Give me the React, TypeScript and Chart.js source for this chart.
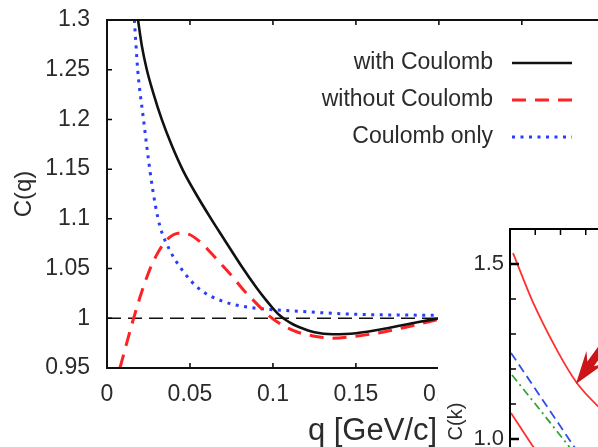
import { useEffect, useRef } from "react";
import { Chart, registerables } from "chart.js";
Chart.register(...registerables);

// ---------- main chart data ----------
const qWith = [0.0187, 0.021, 0.024, 0.028, 0.033, 0.039, 0.046, 0.054, 0.062, 0.07, 0.082, 0.09, 0.096, 0.1, 0.104, 0.108, 0.112, 0.116, 0.125, 0.136, 0.15, 0.169, 0.187, 0.2];
const cWith = [1.3, 1.274, 1.25, 1.226, 1.2, 1.174, 1.148, 1.124, 1.102, 1.081, 1.05, 1.031, 1.018, 1.01, 1.003, 0.998, 0.994, 0.991, 0.986, 0.984, 0.985, 0.99, 0.996, 1.0];

const qWithout = [0.0078, 0.0157, 0.021, 0.026, 0.03, 0.035, 0.04, 0.045, 0.05, 0.056, 0.062, 0.068, 0.075, 0.082, 0.09, 0.096, 0.102, 0.108, 0.115, 0.125, 0.136, 0.15, 0.166, 0.18, 0.2];
const cWithout = [0.95, 0.998, 1.027, 1.05, 1.064, 1.077, 1.084, 1.086, 1.084, 1.077, 1.067, 1.056, 1.043, 1.029, 1.015, 1.005, 0.997, 0.991, 0.986, 0.982, 0.98, 0.982, 0.986, 0.991, 0.999];

const qCoul = [0.0165, 0.0185, 0.022, 0.026, 0.029, 0.032, 0.038, 0.046, 0.056, 0.07, 0.086, 0.116, 0.15, 0.2];
const cCoul = [1.3, 1.25, 1.2, 1.147, 1.115, 1.092, 1.068, 1.047, 1.029, 1.017, 1.011, 1.007, 1.004, 1.003];

const qUnity = [0, 0.32];
const cUnity = [1, 1];

const seriesLabels = ["with Coulomb", "without Coulomb", "Coulomb only"];
const xTitle = "q [GeV/c]";
const yTitle = "C(q)";

// ---------- inset data ----------
const kUpper = [0.12, 0.87, 1.86, 2.65, 3.44, 4.3];
const cUpper = [1.531, 1.397, 1.254, 1.16, 1.097, 1.045];
const kLower = [0.04, 0.87, 1.4];
const cLower = [1.074, 0.983, 0.93];
const kBlue = [0.04, 1.3, 2.49, 3.0];
const cBlue = [1.246, 1.111, 0.983, 0.93];
const kGreen = [0.08, 1.19, 2.29, 2.8];
const cGreen = [1.183, 1.083, 0.983, 0.93];
const arrowTip = [2.61, 1.157];
const insetTitle = "C(k)";

const FONT = '"Liberation Sans", Arial, sans-serif';
const TEXT = "#2b2b2b";

const pts = (xs: number[], ys: number[]) => xs.map((x, i) => ({ x, y: ys[i] }));
const fmt = (v: number) => String(parseFloat(Number(v).toFixed(4)));

const mainFrame = {
  id: "mainFrame",
  afterDatasetsDraw(chart: any) {
    const { ctx, chartArea: a, scales } = chart;
    ctx.save();
    ctx.strokeStyle = "#000";
    ctx.lineWidth = 1.5;
    const tl = 5;
    scales.x.ticks.forEach((t: any) => {
      const px = scales.x.getPixelForValue(t.value);
      ctx.beginPath();
      ctx.moveTo(px, a.bottom); ctx.lineTo(px, a.bottom - tl);
      ctx.moveTo(px, a.top); ctx.lineTo(px, a.top + tl);
      ctx.stroke();
    });
    scales.y.ticks.forEach((t: any) => {
      const py = scales.y.getPixelForValue(t.value);
      ctx.beginPath();
      ctx.moveTo(a.left, py); ctx.lineTo(a.left + tl, py);
      ctx.moveTo(a.right, py); ctx.lineTo(a.right - tl, py);
      ctx.stroke();
    });
    ctx.lineWidth = 2;
    ctx.strokeStyle = "#111";
    ctx.strokeRect(a.left, a.top, a.right - a.left, a.bottom - a.top);
    ctx.restore();
  },
  afterDraw(chart: any) {
    const { ctx } = chart;
    const textRight = 493, lineStart = 512, lineEnd = 572;
    const rows = [63, 100, 137];
    chart.data.datasets.slice(0, 3).forEach((ds: any, i: number) => {
      ctx.save();
      ctx.font = `23px ${FONT}`;
      ctx.fillStyle = TEXT;
      ctx.textAlign = "right";
      ctx.textBaseline = "middle";
      ctx.fillText(ds.label, textRight, rows[i]);
      ctx.strokeStyle = ds.borderColor;
      ctx.lineWidth = ds.borderWidth;
      ctx.setLineDash(ds.borderDash || []);
      ctx.beginPath();
      ctx.moveTo(lineStart, rows[i]);
      ctx.lineTo(lineEnd, rows[i]);
      ctx.stroke();
      ctx.restore();
    });
  },
};

const insetFrame = {
  id: "insetFrame",
  afterDatasetsDraw(chart: any) {
    const { ctx, chartArea: a, scales } = chart;
    ctx.save();
    ctx.strokeStyle = "#000";
    scales.y.ticks.forEach((t: any) => {
      const py = scales.y.getPixelForValue(t.value);
      const major = Math.abs(t.value * 2 - Math.round(t.value * 2)) < 1e-6;
      ctx.lineWidth = major ? 2.5 : 1.5;
      ctx.beginPath();
      ctx.moveTo(a.left, py);
      ctx.lineTo(a.left + (major ? 9 : 6), py);
      ctx.stroke();
    });
    ctx.lineWidth = 1.5;
    scales.x.ticks.forEach((t: any) => {
      const px = scales.x.getPixelForValue(t.value);
      ctx.beginPath();
      ctx.moveTo(px, a.top);
      ctx.lineTo(px, a.top + 6);
      ctx.stroke();
    });
    ctx.lineWidth = 2;
    ctx.beginPath();
    ctx.moveTo(a.right + 50, a.top);
    ctx.lineTo(a.left, a.top);
    ctx.lineTo(a.left, a.bottom);
    ctx.stroke();

    // arrow annotation
    const tx = scales.x.getPixelForValue(arrowTip[0]);
    const ty = scales.y.getPixelForValue(arrowTip[1]);
    const ang = (-54 * Math.PI) / 180;
    const dx = Math.cos(ang), dy = Math.sin(ang);
    const nx = -dy, ny = dx;
    const p = (s: number, w: number) => [tx + dx * s + nx * w, ty + dy * s + ny * w];
    const poly = [p(0, 0), p(33, 11), p(25, 4), p(90, 4), p(90, -4), p(25, -4), p(33, -11)];
    ctx.fillStyle = "#cc1518";
    ctx.beginPath();
    poly.forEach(([x, y], i) => (i ? ctx.lineTo(x, y) : ctx.moveTo(x, y)));
    ctx.closePath();
    ctx.fill();
    ctx.restore();
  },
};

export default function App() {
  const mainRef = useRef<HTMLCanvasElement>(null);
  const insetRef = useRef<HTMLCanvasElement>(null);

  useEffect(() => {
    const main = new Chart(mainRef.current as HTMLCanvasElement, {
      type: "scatter",
      data: {
        datasets: [
          { label: seriesLabels[0], data: pts(qWith, cWith), showLine: true, borderColor: "#111", borderWidth: 2.6, pointRadius: 0, cubicInterpolationMode: "monotone" },
          { label: seriesLabels[1], data: pts(qWithout, cWithout), showLine: true, borderColor: "#ff2222", borderWidth: 3, borderDash: [14, 9], pointRadius: 0, cubicInterpolationMode: "monotone" },
          { label: seriesLabels[2], data: pts(qCoul, cCoul), showLine: true, borderColor: "#2a3cff", borderWidth: 3, borderDash: [3, 5.5], pointRadius: 0, cubicInterpolationMode: "monotone" },
          { label: "unity", data: pts(qUnity, cUnity), showLine: true, borderColor: "#111", borderWidth: 1.5, borderDash: [14, 7], pointRadius: 0 },
        ],
      },
      options: {
        animation: false,
        responsive: false,
        maintainAspectRatio: false,
        layout: { padding: { top: 20, right: 22, left: 0, bottom: 0 } },
        plugins: { legend: { display: false }, tooltip: { enabled: false } },
        scales: {
          x: {
            type: "linear",
            min: 0,
            max: 0.32,
            afterFit: (s: any) => { s.height = 79; s.paddingLeft = 0; s.paddingRight = 0; },
            afterBuildTicks: (s: any) => {
              s.ticks = s.ticks.filter((t: any) => Math.abs(t.value / 0.05 - Math.round(t.value / 0.05)) < 1e-6);
            },
            ticks: { stepSize: 0.05, padding: 13, color: TEXT, font: { family: FONT, size: 23 }, callback: (v: any) => fmt(v), maxRotation: 0, autoSkip: false },
            grid: { display: false, drawTicks: false },
            border: { display: false },
            title: { display: true, text: xTitle, color: TEXT, font: { family: FONT, size: 31, lineHeight: 1 }, padding: { top: 0, bottom: 0 } },
          },
          y: {
            type: "linear",
            min: 0.95,
            max: 1.3,
            afterFit: (s: any) => { s.width = 107; s.paddingTop = 0; s.paddingBottom = 0; },
            ticks: { stepSize: 0.05, padding: 17, color: TEXT, font: { family: FONT, size: 23 }, callback: (v: any) => fmt(v) },
            grid: { display: false, drawTicks: false },
            border: { display: false },
            title: { display: true, text: yTitle, color: TEXT, font: { family: FONT, size: 24 }, padding: { top: 10, bottom: 0 } },
          },
        },
      },
      plugins: [mainFrame],
    } as any);

    const inset = new Chart(insetRef.current as HTMLCanvasElement, {
      type: "scatter",
      data: {
        datasets: [
          { label: "upper", data: pts(kUpper, cUpper), showLine: true, borderColor: "#ff3030", borderWidth: 1.8, pointRadius: 0, tension: 0.2 },
          { label: "lower", data: pts(kLower, cLower), showLine: true, borderColor: "#ff3030", borderWidth: 1.8, pointRadius: 0 },
          { label: "blue", data: pts(kBlue, cBlue), showLine: true, borderColor: "#2f4fe6", borderWidth: 1.8, borderDash: [9, 5], pointRadius: 0 },
          { label: "green", data: pts(kGreen, cGreen), showLine: true, borderColor: "#33a335", borderWidth: 1.8, borderDash: [8, 4, 2, 4], pointRadius: 0 },
        ],
      },
      options: {
        animation: false,
        responsive: false,
        maintainAspectRatio: false,
        layout: { padding: { top: 49, right: 26, left: 0, bottom: 0 } },
        plugins: { legend: { display: false }, tooltip: { enabled: false } },
        scales: {
          x: {
            type: "linear",
            min: 0,
            max: 8,
            afterFit: (s: any) => { s.height = 46; s.paddingLeft = 0; s.paddingRight = 0; },
            ticks: { display: false, stepSize: 1 },
            grid: { display: false, drawTicks: false },
            border: { display: false },
          },
          y: {
            type: "linear",
            min: 0.5,
            max: 1.6,
            afterFit: (s: any) => { s.width = 72; s.paddingTop = 0; s.paddingBottom = 0; },
            ticks: {
              stepSize: 0.1,
              padding: 6,
              color: TEXT,
              font: { family: FONT, size: 22 },
              autoSkip: false,
              callback: (v: any) => (Math.abs(v * 2 - Math.round(v * 2)) < 1e-6 ? Number(v).toFixed(1) : ""),
            },
            grid: { display: false, drawTicks: false },
            border: { display: false },
            title: { display: true, text: insetTitle, color: TEXT, font: { family: FONT, size: 20 }, padding: { top: 6, bottom: 0 } },
          },
        },
      },
      plugins: [insetFrame],
    } as any);

    return () => {
      main.destroy();
      inset.destroy();
    };
  }, []);

  return (
    <div style={{ position: "fixed", left: 0, top: 0, width: 598, height: 447, overflow: "hidden", background: "#fff" }}>
      <canvas ref={mainRef} width={660} height={447} style={{ position: "absolute", left: 0, top: 0, width: 660, height: 447 }} />
      <div style={{ position: "absolute", left: 438, top: 175, width: 160, height: 237, background: "#fff" }} />
      <div style={{ position: "absolute", left: 445, top: 412, width: 153, height: 35, background: "#fff" }} />
      <div style={{ position: "absolute", left: 438, top: 180, width: 160, height: 267, overflow: "hidden" }}>
        <canvas ref={insetRef} width={300} height={480} style={{ position: "absolute", left: 0, top: 0, width: 300, height: 480 }} />
      </div>
    </div>
  );
}
